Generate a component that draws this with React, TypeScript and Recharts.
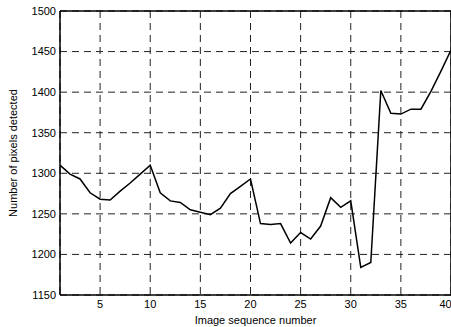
import { LineChart, Line, XAxis, YAxis, CartesianGrid, Label, ReferenceLine } from "recharts";

const frames = [
  1, 2, 3, 4, 5, 6, 7, 8, 9, 10, 11, 12, 13, 14, 15, 16, 17, 18, 19, 20,
  21, 22, 23, 24, 25, 26, 27, 28, 29, 30, 31, 32, 33, 34, 35, 36, 37, 38, 39, 40,
];
const pixels = [
  1310, 1299, 1293, 1276, 1268, 1267, 1278, 1288, 1299, 1310,
  1276, 1266, 1264, 1255, 1252, 1249, 1257, 1275, 1284, 1293,
  1238, 1237, 1238, 1214, 1227, 1219, 1235, 1270, 1258, 1266,
  1184, 1190, 1402, 1374, 1373, 1379, 1379, 1401, 1426, 1452,
];
const xTicks = [5, 10, 15, 20, 25, 30, 35, 40];
const yTicks = [1150, 1200, 1250, 1300, 1350, 1400, 1450, 1500];

const data = frames.map((f, i) => ({ frame: f, count: pixels[i] }));

const font = { fill: "#000", fontSize: 11, fontFamily: "Liberation Sans, Arial, sans-serif" };

export default function App() {
  return (
    <div style={{ position: "absolute", left: 0, top: 0, width: 451, height: 327, background: "#fff" }}>
      <LineChart
        width={451}
        height={327}
        data={data}
        margin={{ top: 11, right: 0, bottom: 0, left: 0 }}
      >
        <CartesianGrid stroke="#222" strokeDasharray="7 5" strokeWidth={1} />
        <XAxis
          dataKey="frame"
          type="number"
          domain={[1, 40]}
          ticks={xTicks}
          tick={font}
          tickSize={0}
          tickMargin={5}
          axisLine={{ stroke: "#000", strokeWidth: 1.5 }}
          height={32}
          allowDataOverflow
        >
          <Label value="Image sequence number" position="insideBottom" offset={3} style={font} />
        </XAxis>
        <YAxis
          type="number"
          domain={[1150, 1500]}
          ticks={yTicks}
          tick={font}
          tickSize={0}
          tickMargin={4}
          axisLine={{ stroke: "#000", strokeWidth: 1.5 }}
          width={60}
          allowDataOverflow
        >
          <Label
            value="Number of pixels detected"
            angle={-90}
            position="insideLeft"
            offset={13}
            style={{ ...font, textAnchor: "middle" }}
          />
        </YAxis>
        <ReferenceLine y={1500} stroke="#000" strokeWidth={1.5} />
        <ReferenceLine x={40} stroke="#000" strokeWidth={1.5} />
        <Line
          type="linear"
          dataKey="count"
          stroke="#000"
          strokeWidth={1.5}
          dot={false}
          isAnimationActive={false}
        />
      </LineChart>
    </div>
  );
}
